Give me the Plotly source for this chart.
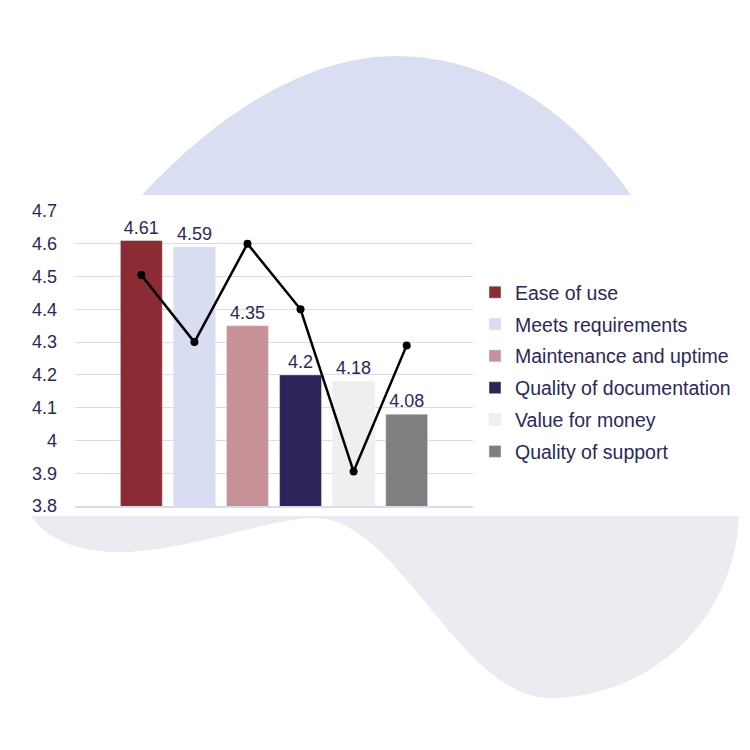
import plotly.graph_objects as go

categories = ["Ease of use", "Meets requirements", "Maintenance and uptime",
              "Quality of documentation", "Value for money", "Quality of support"]
bar_values = [4.61, 4.59, 4.35, 4.2, 4.18, 4.08]
line_values = [4.505, 4.30, 4.60, 4.40, 3.905, 4.29]
bar_colors = ["#8B2C34", "#D8DDF2", "#C79297", "#2D2459", "#EFEFEF", "#7F7F7F"]

W = H = 750
TXT = "#2C2858"
FONT = "Liberation Sans, Arial, sans-serif"


def px_path(segments):
    """Convert a path written in pixel coordinates (y down) into paper coordinates."""
    out = []
    for tok in segments.split():
        if "," in tok:
            x, y = tok.split(",")
            out.append(f"{float(x)/W:.5f},{1-float(y)/H:.5f}")
        else:
            out.append(tok)
    return " ".join(out)


fig = go.Figure()

for cat, val, col in zip(categories, bar_values, bar_colors):
    fig.add_trace(go.Bar(
        x=[cat], y=[val], name=cat, marker_color=col, width=0.79,
        text=[f"{val:g}"], textposition="outside", cliponaxis=False,
        textfont=dict(size=18, color=TXT, family=FONT),
        legendgroup=cat,
    ))

fig.add_trace(go.Scatter(
    x=categories, y=line_values, mode="lines+markers",
    line=dict(color="black", width=2.5), marker=dict(color="black", size=8),
    showlegend=False, cliponaxis=False,
))

top_blob = px_path("M 142,195 C 230,100 320,56 396,56 C 490,56 570,110 631,195 Z")
bottom_blob = px_path("M 31,516 C 50,545 90,553 124,552 C 190,550 270,518 316,518 "
                      "C 400,520 460,698 550,698 C 650,698 735,620 739,516 Z")

fig.update_layout(
    width=W, height=H,
    margin=dict(l=0, r=0, t=0, b=0),
    paper_bgcolor="white", plot_bgcolor="white",
    barmode="overlay",
    font=dict(family=FONT, color=TXT, size=18),
    shapes=[
        dict(type="path", path=top_blob, xref="paper", yref="paper",
             fillcolor="#D9DEF2", line=dict(width=0), layer="below"),
        dict(type="path", path=bottom_blob, xref="paper", yref="paper",
             fillcolor="#EBECF1", line=dict(width=0), layer="below"),
    ],
    xaxis=dict(domain=[75/W, 473/W], range=[-1.25, 6.25], showticklabels=False,
               showgrid=False, zeroline=False, showline=True, linecolor="#D9DCF0",
               linewidth=1.5, categoryorder="array", categoryarray=categories,
               automargin=False, fixedrange=True),
    yaxis=dict(domain=[1-506/H, 1-211/H], range=[3.8, 4.7], tick0=3.8, dtick=0.1,
               showgrid=True, gridcolor="#D9DCF0", gridwidth=1,
               zeroline=False, showline=False, ticks="", ticklabelstandoff=17,
               tickfont=dict(size=18, color=TXT, family=FONT), automargin=False,
               fixedrange=True),
    legend=dict(x=475/W, y=1-372/H, xanchor="left", yanchor="middle",
                font=dict(size=19.5, color=TXT, family=FONT),
                bgcolor="rgba(0,0,0,0)", tracegroupgap=3.5, itemclick=False),
    showlegend=True,
)

fig.write_html("out.html", post_script="document.body.style.margin='0';",
               config={"displayModeBar": False})
